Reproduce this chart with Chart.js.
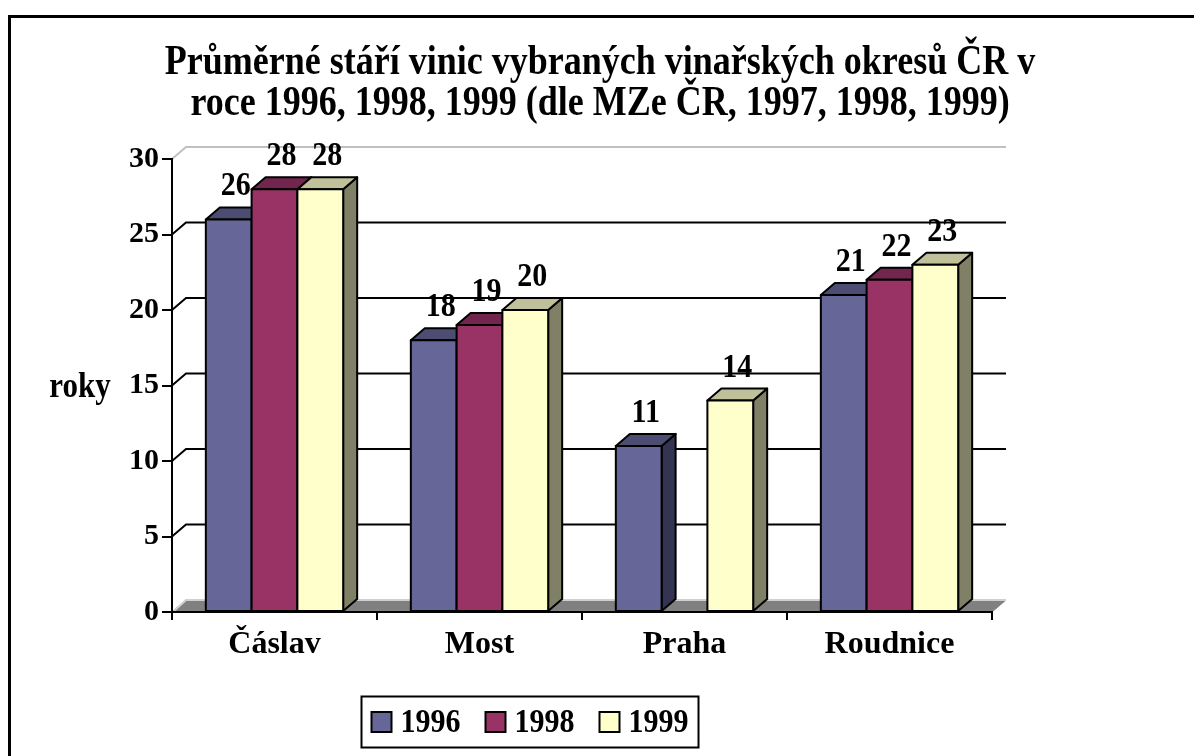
<!DOCTYPE html>
<html>
<head>
<meta charset="utf-8">
<script src="https://cdn.jsdelivr.net/npm/chart.js@4"></script>
<style>
  html, body { margin: 0; padding: 0; background: #fff; }
  #wrap { position: relative; width: 1194px; height: 756px; overflow: hidden; }
  #frame { position: absolute; left: 8px; top: 15px; width: 1300px; height: 900px;
           border-left: 3px solid #000; border-top: 3px solid #000; }
  canvas { position: absolute; left: 0; top: 0; }
</style>
</head>
<body>
<div id="wrap">
  <div id="frame"></div>
  <canvas id="chart" width="1194" height="756"></canvas>
</div>
<script>
// data
const categories = ['Čáslav', 'Most', 'Praha', 'Roudnice'];
const years = ['1996', '1998', '1999'];
const values1996 = [26, 18, 11, 21];
const values1998 = [28, 19, null, 22];
const values1999 = [28, 20, 14, 23];
const yTicks = [0, 5, 10, 15, 20, 25, 30];
const titleLines = [
    'Průměrné stáří vinic vybraných vinařských okresů ČR v',
    'roce 1996, 1998, 1999 (dle MZe ČR, 1997, 1998, 1999)'
];
const axisTitle = 'roky';

// look
const frontColors = ['#666699', '#993366', '#FFFFCC'];
const topColors = ['#4D4D73', '#73264D', '#C0C09A'];
const sideColors = ['#333352', '#4D1A33', '#808066'];
const DX = 14, DY = -12;
const SERIF = '"Liberation Serif", "Times New Roman", serif';
const STRETCH = 1.15; // the original lettering is a bit taller than Liberation

function poly(ctx, pts, fill) {
    ctx.beginPath();
    ctx.moveTo(pts[0][0], pts[0][1]);
    for (let i = 1; i < pts.length; i++) ctx.lineTo(pts[i][0], pts[i][1]);
    ctx.closePath();
    ctx.fillStyle = fill;
    ctx.fill();
    ctx.stroke();
}

function tallText(ctx, txt, x, y) {
    ctx.save();
    ctx.translate(x, y);
    ctx.scale(1, STRETCH);
    ctx.fillText(txt, 0, 0);
    ctx.restore();
}

// back wall, side wall lines and floor
const wallPlugin = {
    id: 'wall',
    beforeDraw(chart) {
        const ctx = chart.ctx;
        const y = chart.scales.y, x = chart.scales.x;
        const l = x.left, r = x.right;
        ctx.save();
        ctx.lineWidth = 2;
        yTicks.forEach(v => {
            if (v === 0) return;
            const py = y.getPixelForValue(v);
            ctx.strokeStyle = v === y.max ? '#c0c0c0' : '#000';
            ctx.beginPath();
            ctx.moveTo(l, py);
            ctx.lineTo(l + DX, py + DY);
            ctx.lineTo(r + DX, py + DY);
            ctx.stroke();
        });
        // floor
        const b = y.getPixelForValue(0);
        ctx.strokeStyle = '#808080';
        ctx.lineWidth = 1;
        poly(ctx, [[l, b], [l + DX, b + DY], [r + DX, b + DY], [r, b]], '#808080');
        ctx.strokeStyle = '#d0d0d0';
        ctx.lineWidth = 2;
        ctx.beginPath();
        ctx.moveTo(l + 2, b - 1);
        ctx.lineTo(l + DX, b + DY);
        ctx.lineTo(r + DX, b + DY);
        ctx.stroke();
        ctx.restore();
    }
};

// 3d faces and value labels
const barsPlugin = {
    id: 'bars3d',
    afterDatasetsDraw(chart) {
        const ctx = chart.ctx;
        ctx.save();
        ctx.lineWidth = 2;
        ctx.lineJoin = 'round';
        ctx.strokeStyle = '#000';
        chart.data.datasets.forEach((ds, di) => {
            chart.getDatasetMeta(di).data.forEach((bar, i) => {
                if (ds.data[i] == null) return;
                const p = bar.getProps(['x', 'y', 'base', 'width'], true);
                const lft = p.x - p.width / 2, rgt = p.x + p.width / 2;
                poly(ctx, [[rgt, p.y], [rgt + DX, p.y + DY], [rgt + DX, p.base + DY], [rgt, p.base]], sideColors[di]);
                poly(ctx, [[lft, p.y], [lft + DX, p.y + DY], [rgt + DX, p.y + DY], [rgt, p.y]], topColors[di]);
                poly(ctx, [[lft, p.y], [rgt, p.y], [rgt, p.base], [lft, p.base]], frontColors[di]);
            });
        });
        ctx.fillStyle = '#000';
        ctx.font = 'bold 30px ' + SERIF;
        ctx.textAlign = 'center';
        ctx.textBaseline = 'alphabetic';
        chart.data.datasets.forEach((ds, di) => {
            chart.getDatasetMeta(di).data.forEach((bar, i) => {
                if (ds.data[i] == null) return;
                const p = bar.getProps(['x', 'y'], true);
                tallText(ctx, String(ds.data[i]), p.x + DX / 2, p.y - 24);
            });
        });
        ctx.restore();
    },
    afterDraw(chart) {
        const ctx = chart.ctx;
        const area = chart.chartArea;
        ctx.save();
        ctx.fillStyle = '#000';
        ctx.textAlign = 'center';
        ctx.textBaseline = 'middle';
        ctx.font = 'bold 36px ' + SERIF;
        titleLines.forEach((t, i) => tallText(ctx, t, 600, 63 + i * 41));
        ctx.font = 'bold 31px ' + SERIF;
        tallText(ctx, axisTitle, 80, (area.top + area.bottom) / 2 + 2);

        // legend
        ctx.font = 'bold 30px ' + SERIF;
        const sw = 20, gap = 9, space = 25, pad = 10;
        let w = pad * 2;
        years.forEach((yr, i) => { w += sw + gap + ctx.measureText(yr).width + (i < years.length - 1 ? space : 0); });
        const cx = 530, cy = 722, h = 51;
        let lx = cx - w / 2;
        ctx.lineWidth = 2;
        ctx.strokeStyle = '#000';
        ctx.strokeRect(lx, cy - h / 2, w, h);
        lx += pad;
        ctx.textAlign = 'left';
        years.forEach((yr, i) => {
            ctx.fillStyle = frontColors[i];
            ctx.fillRect(lx, cy - sw / 2, sw, sw);
            ctx.strokeRect(lx, cy - sw / 2, sw, sw);
            lx += sw + gap;
            ctx.fillStyle = '#000';
            tallText(ctx, yr, lx, cy + 1);
            lx += ctx.measureText(yr).width + space;
        });
        ctx.restore();
    }
};

new Chart(document.getElementById('chart'), {
    type: 'bar',
    data: {
        labels: categories,
        datasets: [
            { label: years[0], data: values1996, backgroundColor: frontColors[0] },
            { label: years[1], data: values1998, backgroundColor: frontColors[1] },
            { label: years[2], data: values1999, backgroundColor: frontColors[2] }
        ]
    },
    options: {
        responsive: false,
        animation: false,
        devicePixelRatio: 1,
        categoryPercentage: 0.67,
        barPercentage: 1,
        layout: { padding: { top: 159, left: 0, right: 202, bottom: 0 } },
        scales: {
            x: {
                afterFit: s => { s.height = 144; },
                grid: { offset: true, drawOnChartArea: false, tickLength: 8, color: '#000', lineWidth: 2 },
                border: { color: '#000', width: 2, z: 1 },
                ticks: { color: '#000', font: { family: SERIF, size: 32, weight: 'bold' }, padding: 6 }
            },
            y: {
                min: 0,
                max: 30,
                afterFit: s => { s.width = 172; },
                grid: { drawOnChartArea: false, tickLength: 10, color: '#000', lineWidth: 2 },
                border: { color: '#000', width: 2, z: 1 },
                ticks: { stepSize: 5, color: '#000', font: { family: SERIF, size: 30, weight: 'bold' }, padding: 3 }
            }
        },
        plugins: {
            legend: { display: false },
            title: { display: false },
            tooltip: { enabled: false }
        }
    },
    plugins: [wallPlugin, barsPlugin]
});
</script>
</body>
</html>
